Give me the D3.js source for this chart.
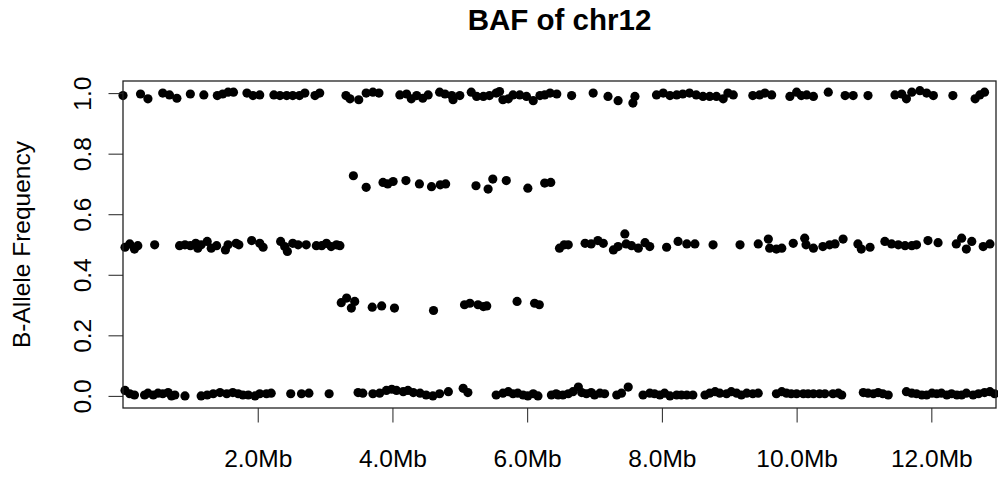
<!DOCTYPE html>
<meta charset="utf-8">
<head>
    <style>
        body{
            margin: 0;
            background-color: white;
        }
        text{
            font-family: "Liberation Sans", Arial, sans-serif;
        }
        .axis text{
            font-size: 24.5px;
            fill: black;
        }
        .axis line{
            stroke: #222;
        }
    </style>
</head>
<body>
<div id="baf"></div>
<script src="https://d3js.org/d3.v7.min.js"></script>
<script>

    // chromosome position (Mb) and B-allele frequency, one array per band
    const bandHigh = [
        [0.00,0.992],[0.26,0.997],[0.37,0.981],[0.59,1.000],[0.69,0.994],[0.80,0.983],[1.00,0.997],[1.20,0.994],
        [1.40,0.992],[1.48,0.997],[1.56,1.003],[1.64,1.003],[1.84,1.000],[1.93,0.992],[2.03,0.994],[2.24,0.994],
        [2.33,0.992],[2.43,0.992],[2.52,0.992],[2.62,0.992],[2.70,1.000],[2.85,0.992],[2.92,1.000],[3.31,0.992],
        [3.37,0.981],[3.50,0.978],[3.61,1.000],[3.71,1.003],[3.80,1.000],[4.11,0.994],[4.21,0.997],[4.28,0.981],
        [4.36,0.992],[4.45,0.983],[4.53,0.994],[4.70,1.003],[4.78,0.997],[4.88,0.992],[4.90,0.978],[5.00,0.992],
        [5.17,1.003],[5.25,0.989],[5.35,0.989],[5.44,0.992],[5.54,1.000],[5.59,1.005],[5.64,0.978],[5.72,0.981],
        [5.79,0.994],[5.89,0.994],[5.99,0.989],[6.09,0.975],[6.19,0.992],[6.26,0.994],[6.34,1.000],[6.44,0.997],
        [6.66,0.992],[6.98,1.000],[7.20,0.989],[7.35,0.975],[7.60,0.989],[7.57,0.967],[7.92,0.994],[8.02,1.000],
        [8.12,0.992],[8.22,0.994],[8.31,0.997],[8.41,1.000],[8.51,0.994],[8.61,0.989],[8.71,0.989],[8.81,0.989],
        [8.91,0.981],[8.98,1.000],[9.06,0.994],[9.35,0.992],[9.45,0.994],[9.53,1.000],[9.63,0.994],[9.90,0.989],
        [10.00,1.003],[10.07,0.992],[10.15,0.994],[10.25,0.989],[10.47,1.003],[10.72,0.992],[10.84,0.992],
        [11.06,0.992],[11.46,0.994],[11.56,0.997],[11.63,0.981],[11.71,1.003],[11.83,1.008],[11.93,1.000],
        [12.03,0.992],[12.32,0.992],[12.65,0.981],[12.72,0.994],[12.79,1.003]
    ];

    const bandUpperMid = [
        [3.42,0.727],[3.61,0.689],[3.86,0.705],[3.93,0.700],[4.01,0.708],[4.20,0.711],[4.40,0.700],[4.58,0.691],
        [4.71,0.697],[4.79,0.700],[5.24,0.694],[5.42,0.683],[5.49,0.716],[5.69,0.711],[6.01,0.686],[6.26,0.703],
        [6.35,0.705]
    ];

    const bandHet = [
        [0.03,0.491],[0.10,0.502],[0.17,0.485],[0.22,0.496],[0.47,0.499],[0.84,0.496],[0.92,0.499],[1.00,0.496],
        [1.08,0.504],[1.11,0.488],[1.16,0.499],[1.25,0.510],[1.31,0.488],[1.39,0.496],[1.52,0.482],[1.56,0.499],
        [1.68,0.504],[1.72,0.499],[1.91,0.513],[2.03,0.504],[2.08,0.491],[2.34,0.510],[2.40,0.493],[2.44,0.477],
        [2.52,0.504],[2.60,0.499],[2.72,0.499],[2.87,0.496],[2.95,0.496],[3.02,0.504],[3.09,0.493],[3.17,0.499],
        [3.22,0.496],[6.48,0.488],[6.55,0.499],[6.61,0.499],[6.86,0.504],[6.95,0.502],[7.05,0.513],[7.13,0.504],
        [7.28,0.482],[7.35,0.493],[7.45,0.535],[7.47,0.502],[7.55,0.496],[7.65,0.488],[7.75,0.506],[7.82,0.493],
        [8.07,0.491],[8.24,0.510],[8.37,0.502],[8.49,0.502],[8.76,0.499],[9.16,0.499],[9.43,0.502],[9.58,0.518],
        [9.60,0.488],[9.70,0.485],[9.78,0.488],[9.95,0.504],[10.12,0.521],[10.14,0.499],[10.25,0.488],[10.39,0.493],
        [10.49,0.499],[10.57,0.502],[10.69,0.518],[10.91,0.502],[10.96,0.485],[11.09,0.491],[11.31,0.510],
        [11.41,0.502],[11.51,0.499],[11.61,0.496],[11.71,0.496],[11.78,0.499],[11.95,0.513],[12.10,0.506],
        [12.37,0.502],[12.45,0.521],[12.52,0.485],[12.60,0.510],[12.77,0.493],[12.87,0.502]
    ];

    const bandLowerMid = [
        [3.24,0.308],[3.32,0.323],[3.39,0.290],[3.44,0.312],[3.70,0.293],[3.84,0.297],[4.03,0.290],[4.61,0.282],
        [5.07,0.301],[5.15,0.306],[5.27,0.301],[5.35,0.295],[5.40,0.297],[5.85,0.312],[6.11,0.306],[6.18,0.301]
    ];

    const bandLow = [
        [0.03,0.018],[0.10,0.007],[0.17,0.003],[0.32,0.003],[0.37,0.009],[0.45,0.003],[0.52,0.009],[0.59,0.007],
        [0.67,0.011],[0.72,0.000],[0.77,0.003],[0.92,0.000],[1.16,0.000],[1.25,0.003],[1.34,0.007],[1.44,0.011],
        [1.54,0.007],[1.63,0.011],[1.71,0.007],[1.78,0.003],[1.86,0.003],[1.96,0.000],[2.03,0.007],[2.13,0.007],
        [2.20,0.009],[2.49,0.007],[2.65,0.007],[2.76,0.009],[3.06,0.007],[3.49,0.011],[3.56,0.009],[3.71,0.007],
        [3.81,0.009],[3.91,0.018],[3.99,0.022],[4.06,0.018],[4.16,0.014],[4.23,0.018],[4.31,0.011],[4.41,0.009],
        [4.50,0.003],[4.60,0.000],[4.70,0.007],[4.83,0.014],[5.05,0.025],[5.12,0.011],[5.54,0.003],[5.64,0.009],
        [5.72,0.014],[5.79,0.007],[5.86,0.009],[5.94,0.003],[6.01,0.000],[6.09,0.007],[6.16,0.000],[6.36,0.003],
        [6.43,0.007],[6.46,0.003],[6.53,0.003],[6.61,0.007],[6.68,0.014],[6.76,0.029],[6.81,0.011],[6.88,0.007],
        [6.95,0.011],[7.00,0.003],[7.08,0.009],[7.15,0.007],[7.33,0.003],[7.40,0.009],[7.50,0.029],[7.72,0.003],
        [7.82,0.009],[7.89,0.007],[7.97,0.003],[8.04,0.009],[8.12,0.000],[8.22,0.003],[8.29,0.003],[8.37,0.003],
        [8.46,0.003],[8.64,0.003],[8.71,0.009],[8.79,0.014],[8.86,0.009],[8.96,0.007],[9.03,0.014],[9.11,0.009],
        [9.18,0.003],[9.26,0.009],[9.35,0.007],[9.43,0.009],[9.70,0.007],[9.78,0.014],[9.85,0.009],[9.92,0.007],
        [10.00,0.007],[10.10,0.007],[10.17,0.007],[10.25,0.007],[10.34,0.007],[10.42,0.007],[10.54,0.007],
        [10.62,0.009],[10.67,0.003],[10.99,0.011],[11.06,0.009],[11.14,0.007],[11.21,0.011],[11.28,0.007],
        [11.36,0.003],[11.63,0.014],[11.71,0.009],[11.78,0.007],[11.86,0.003],[11.93,0.003],[12.01,0.009],
        [12.08,0.007],[12.15,0.009],[12.23,0.003],[12.30,0.007],[12.38,0.003],[12.45,0.003],[12.52,0.009],
        [12.62,0.003],[12.70,0.007],[12.79,0.011],[12.87,0.014],[12.94,0.007]
    ];

    const xTicks = [2, 4, 6, 8, 10, 12];
    const yTicks = [0, 0.2, 0.4, 0.6, 0.8, 1.0];
    const xDomain = [0, 12.96];
    const yDomain = [-0.04, 1.04];

    // plot area
    const margin = {top: 81, right: 2, bottom: 71, left: 123},
        W = 998, H = 479,
        width = W - margin.left - margin.right,
        height = H - margin.top - margin.bottom;

    const svg = d3.select("#baf")
        .append("svg")
        .attr("width", W)
        .attr("height", H)
        .append("g")
        .attr("transform", `translate(${margin.left}, ${margin.top})`);

    const x = d3.scaleLinear().domain(xDomain).range([0, width]);
    const y = d3.scaleLinear().domain(yDomain).range([height, 0]);

    // points
    const allPoints = [].concat(bandHigh, bandUpperMid, bandHet, bandLowerMid, bandLow);
    svg.append("g")
        .selectAll("circle")
        .data(allPoints)
        .join("circle")
        .attr("cx", d => x(d[0]))
        .attr("cy", d => y(d[1]))
        .attr("r", 4.6)
        .style("fill", "black");

    // x axis
    const xAxis = svg.append("g")
        .attr("class", "axis")
        .attr("transform", `translate(0, ${height})`)
        .call(d3.axisBottom(x).tickValues(xTicks).tickSize(14.5).tickSizeOuter(0)
            .tickFormat(d => d3.format(".1f")(d) + "Mb"));
    xAxis.select(".domain").remove();
    xAxis.selectAll("text")
        .attr("y", 59)
        .attr("dy", null);

    // y axis, labels rotated like base R
    const yAxis = svg.append("g")
        .attr("class", "axis")
        .call(d3.axisLeft(y).tickValues(yTicks).tickSize(14.5).tickSizeOuter(0)
            .tickFormat(d3.format(".1f")));
    yAxis.select(".domain").remove();
    yAxis.selectAll("text")
        .attr("x", null)
        .attr("dy", null)
        .attr("text-anchor", "middle")
        .attr("transform", "translate(-32,0) rotate(-90)");

    // frame
    svg.append("rect")
        .attr("width", width)
        .attr("height", height)
        .attr("fill", "none")
        .attr("stroke", "#222")
        .attr("stroke-width", 1.3);

    // y label
    svg.append("text")
        .attr("text-anchor", "middle")
        .attr("transform", `translate(${30 - margin.left}, ${height / 2}) rotate(-90)`)
        .style("font-size", "24.5px")
        .text("B-Allele Frequency");

    // title
    svg.append("text")
        .attr("x", width / 2)
        .attr("y", 30 - margin.top)
        .attr("text-anchor", "middle")
        .style("font-size", "29.5px")
        .style("font-weight", "bold")
        .text("BAF of chr12");

</script>
</body>
